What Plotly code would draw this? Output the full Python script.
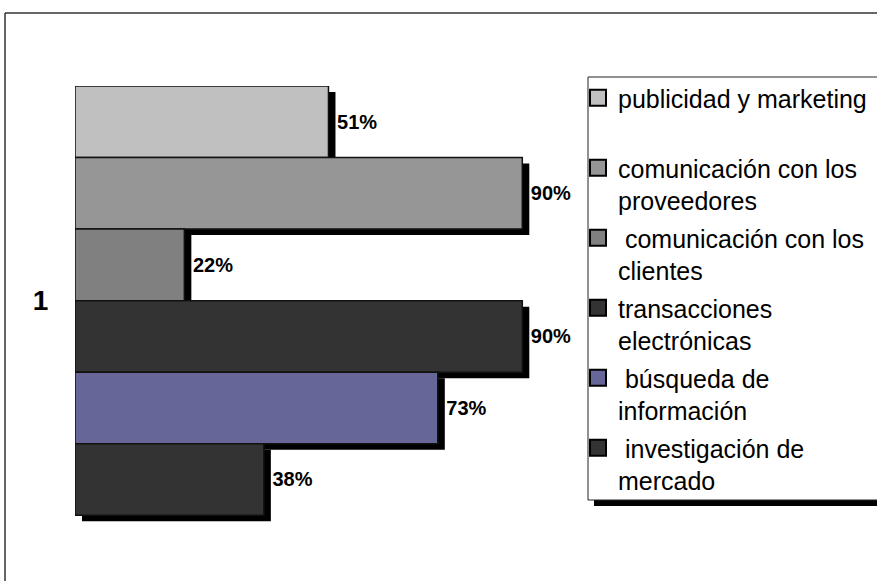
import plotly.graph_objects as go

# Data: share of companies using the internet for each purpose (%)
series_names = [
    "publicidad y marketing",
    "comunicación con los<br>proveedores",
    " comunicación con los<br>clientes",
    "transacciones<br>electrónicas",
    " búsqueda de<br>información",
    " investigación de<br>mercado",
]
values = [51, 90, 22, 90, 73, 38]
colors = ["#C0C0C0", "#969696", "#808080", "#333333", "#666699", "#333333"]
category_labels = ["1"]

W, H = 877, 581
ml, mt = 75, 86
plot_w, plot_h = 497, 440
x_max = 100
y_lo, y_hi = -0.5, 5.65           # reversed category band positions
unit_px = plot_h / (y_hi - y_lo)  # pixels per bar slot

# Shadow offsets in data units (about 7 px right, 6 px down)
sh_dx = 7 / plot_w * x_max
sh_dy = 6 / unit_px

positions = list(range(len(values)))


def pxx(px):
    return (px - ml) / plot_w


def pxy(py):
    return (mt + plot_h - py) / plot_h


def hline(x0, x1, y, color, width):
    return dict(type="line", xref="paper", yref="paper",
                x0=pxx(x0), x1=pxx(x1), y0=pxy(y), y1=pxy(y),
                line=dict(color=color, width=width), layer="below")


def vline(x, y0, y1, color, width):
    return dict(type="line", xref="paper", yref="paper",
                x0=pxx(x), x1=pxx(x), y0=pxy(y0), y1=pxy(y1),
                line=dict(color=color, width=width), layer="below")


font = "Liberation Sans, Arial, Helvetica, sans-serif"
fig = go.Figure()

# Drop shadows behind each bar
for i, v in enumerate(values):
    fig.add_trace(go.Bar(
        x=[v], y=[positions[i] + sh_dy], base=[sh_dx], orientation="h",
        width=1, marker=dict(color="#000000", line=dict(width=0)),
        showlegend=False, hoverinfo="skip",
    ))

# Main bars with value labels
for i, v in enumerate(values):
    fig.add_trace(go.Bar(
        x=[v], y=[positions[i]], orientation="h", width=1,
        marker=dict(color=colors[i], line=dict(color="#111111", width=1.5)),
        texttemplate=" %{x}%", textposition="outside", constraintext="none",
        cliponaxis=False,
        outsidetextfont=dict(family=font, size=20, color="#000000",
                             weight="bold"),
        showlegend=False, name=series_names[i].replace("<br>", " "),
    ))

# Legend entries
for i, name in enumerate(series_names):
    label = name if "<br>" in name else name + "<br>\u00a0"
    fig.add_trace(go.Scatter(
        x=[None], y=[None], mode="markers", name=label,
        legendgroup=str(i),
        marker=dict(symbol="square", size=16, color=colors[i],
                    line=dict(color="#000000", width=2)),
    ))

shapes = [
    # outer chart frame (top and left sides visible)
    hline(5, 1000, 13, "#333333", 1.5),
    vline(5, 13, 700, "#333333", 1.5),
    # legend shadow
    dict(type="rect", xref="paper", yref="paper", x0=pxx(594), x1=pxx(1000),
         y0=pxy(506), y1=pxy(84), line=dict(width=0),
         fillcolor="#000000", layer="below"),
    # legend box
    dict(type="rect", xref="paper", yref="paper", x0=pxx(588), x1=pxx(1000),
         y0=pxy(500), y1=pxy(77), line=dict(width=0),
         fillcolor="#FFFFFF", layer="below"),
    hline(588, 1000, 77, "#222222", 1),
    hline(588, 1000, 500, "#222222", 1),
    vline(588, 77, 500, "#222222", 1),
]

fig.update_layout(
    width=W, height=H,
    margin=dict(l=ml, r=W - ml - plot_w, t=mt, b=H - mt - plot_h,
                autoexpand=False),
    barmode="overlay",
    paper_bgcolor="#FFFFFF", plot_bgcolor="rgba(0,0,0,0)",
    font=dict(family=font, color="#000000"),
    xaxis=dict(range=[0, x_max], visible=False, fixedrange=True),
    yaxis=dict(range=[y_hi, y_lo], showgrid=False, zeroline=False,
               showline=False, tickmode="array",
               tickvals=[(positions[0] + positions[-1]) / 2],
               ticktext=category_labels, ticks="outside", ticklen=20,
               tickcolor="rgba(0,0,0,0)",
               tickfont=dict(family=font, size=28, color="#000000",
                             weight="bold")),
    legend=dict(x=pxx(578), y=pxy(75), xanchor="left", yanchor="top",
                bgcolor="rgba(0,0,0,0)", borderwidth=0,
                bordercolor="rgba(0,0,0,0)", valign="top",
                font=dict(family=font, size=25, color="#000000"),
                tracegroupgap=2, itemsizing="trace", maxheight=700),
    shapes=shapes,
    showlegend=True,
)

fig.write_html("out.html")
